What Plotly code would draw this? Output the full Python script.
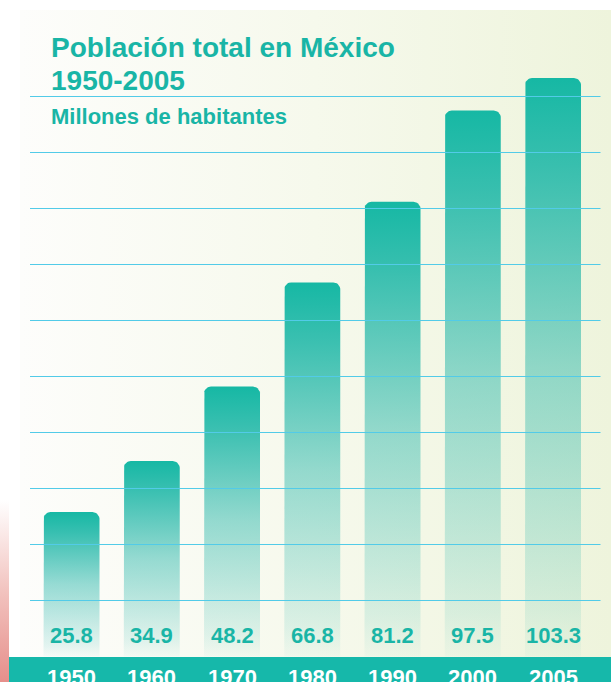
import base64
import numpy as np
import plotly.graph_objects as go

# ---------------- data ----------------
years = ["1950", "1960", "1970", "1980", "1990", "2000", "2005"]
population = [25.8, 34.9, 48.2, 66.8, 81.2, 97.5, 103.3]
value_labels = ["25.8", "34.9", "48.2", "66.8", "81.2", "97.5", "103.3"]
grid_values = [10, 20, 30, 40, 50, 60, 70, 80, 90, 100]

title_line1 = "Población total en México"
title_line2 = "1950-2005"
subtitle = "Millones de habitantes"

# ---------------- style ----------------
W, H = 611, 682
TEAL = "#19b5a6"
GRID = "#52cbe8"
BAND = "#16b8aa"
FONT = "Liberation Sans, Arial, Helvetica, sans-serif"

# plot geometry (pixels)
plot_left, plot_right = 30, 600.5
plot_top, plot_bottom = 10, 656.5
px_per_unit_y = 5.6
px_per_cat = 80.25
first_center = 71.5

x_lo = (plot_left - first_center) / px_per_cat
x_hi = (plot_right - first_center) / px_per_cat
y_hi = (plot_bottom - plot_top) / px_per_unit_y

bar_w = 56 / px_per_cat
r_x = 7 / px_per_cat
r_y = 7 / px_per_unit_y


def rounded_bar(xc, v):
    left, right = xc - bar_w / 2, xc + bar_w / 2
    t = np.linspace(0, np.pi / 2, 10)
    xs, ys = [left], [0]
    for a in t:
        xs.append(left + r_x - r_x * np.cos(a))
        ys.append(v - r_y + r_y * np.sin(a))
    for a in t[::-1]:
        xs.append(right - r_x + r_x * np.cos(a))
        ys.append(v - r_y + r_y * np.sin(a))
    xs += [right, left]
    ys += [0, 0]
    return xs, ys


fig = go.Figure()

for i, v in enumerate(population):
    xs, ys = rounded_bar(i, v)
    fig.add_trace(go.Scatter(
        x=xs, y=ys, mode="lines", fill="toself",
        line=dict(width=0, color="rgba(0,0,0,0)"),
        fillgradient=dict(
            type="vertical",
            start=0, stop=v,
            colorscale=[
                [0.0, "rgba(26,176,166,0.03)"],
                [0.08, "rgba(26,176,166,0.12)"],
                [0.5, "rgba(26,178,166,0.45)"],
                [0.85, "rgba(26,182,166,0.86)"],
                [1.0, "rgba(22,184,164,1.0)"],
            ],
        ),
        hoverinfo="skip", showlegend=False,
    ))

svg = f"""<svg xmlns='http://www.w3.org/2000/svg' width='{W}' height='{H}' viewBox='0 0 {W} {H}' preserveAspectRatio='none'>
<defs>
<linearGradient id='bg' x1='0' y1='0' x2='1' y2='0'>
<stop offset='0' stop-color='#fdfdfb'/>
<stop offset='0.5' stop-color='#f6f9ec'/>
<stop offset='1' stop-color='#eef4dc'/>
</linearGradient>
<linearGradient id='pk' x1='0' y1='0' x2='0' y2='1'>
<stop offset='0' stop-color='#ffffff'/>
<stop offset='0.5' stop-color='#f2c3bf'/>
<stop offset='1' stop-color='#e68f8b'/>
</linearGradient>
</defs>
<rect x='0' y='0' width='{W}' height='{H}' fill='#ffffff'/>
<rect x='20' y='10' width='{W-20}' height='{H-10}' fill='url(#bg)'/>
<rect x='0' y='500' width='9' height='{H-500}' fill='url(#pk)'/>
</svg>"""
src = "data:image/svg+xml;base64," + base64.b64encode(svg.encode()).decode()

shapes = []
for g in grid_values:
    shapes.append(dict(type="line", xref="x domain", yref="y", x0=0, x1=1, y0=g, y1=g,
                       line=dict(color=GRID, width=1), layer="above"))
shapes.append(dict(type="rect", xref="paper", yref="paper", x0=9 / W, x1=1,
                   y0=0, y1=(H - 657) / H, fillcolor=BAND,
                   line=dict(width=0), layer="above"))


def py(px):
    return 1 - px / H


annotations = [
    dict(text=f"<b>{title_line1}</b>", x=49 / W, y=py(47.5), xref="paper", yref="paper",
         xanchor="left", yanchor="middle", showarrow=False,
         font=dict(family=FONT, size=28, color=TEAL)),
    dict(text=f"<b>{title_line2}</b>", x=49 / W, y=py(80.5), xref="paper", yref="paper",
         xanchor="left", yanchor="middle", showarrow=False,
         font=dict(family=FONT, size=28, color=TEAL)),
    dict(text=f"<b>{subtitle}</b>", x=49 / W, y=py(117), xref="paper", yref="paper",
         xanchor="left", yanchor="middle", showarrow=False,
         font=dict(family=FONT, size=22, color=TEAL)),
]
for i, (lab, yr) in enumerate(zip(value_labels, years)):
    annotations.append(dict(text=f"<b>{lab}</b>", x=i, y=py(635), xref="x", yref="paper",
                            xanchor="center", yanchor="middle", showarrow=False,
                            font=dict(family=FONT, size=22, color=TEAL)))
    annotations.append(dict(text=f"<b>{yr}</b>", x=i, y=py(677.5), xref="x", yref="paper",
                            xanchor="center", yanchor="middle", showarrow=False,
                            font=dict(family=FONT, size=22, color="#ffffff")))

fig.update_layout(
    width=W, height=H,
    margin=dict(l=0, r=0, t=0, b=0),
    paper_bgcolor="#ffffff",
    plot_bgcolor="rgba(0,0,0,0)",
    showlegend=False,
    xaxis=dict(range=[x_lo, x_hi], domain=[plot_left / W, plot_right / W],
               visible=False, fixedrange=True),
    yaxis=dict(range=[0, y_hi], domain=[(H - plot_bottom) / H, (H - plot_top) / H],
               visible=False, fixedrange=True),
    images=[dict(source=src, xref="paper", yref="paper", x=0, y=1, sizex=1, sizey=1,
                 xanchor="left", yanchor="top", sizing="stretch", layer="below")],
    shapes=shapes,
    annotations=annotations,
)

fig.write_html(
    "out.html",
    config={"displayModeBar": False},
    post_script="document.body.style.margin='0';document.body.style.overflow='hidden';",
)
